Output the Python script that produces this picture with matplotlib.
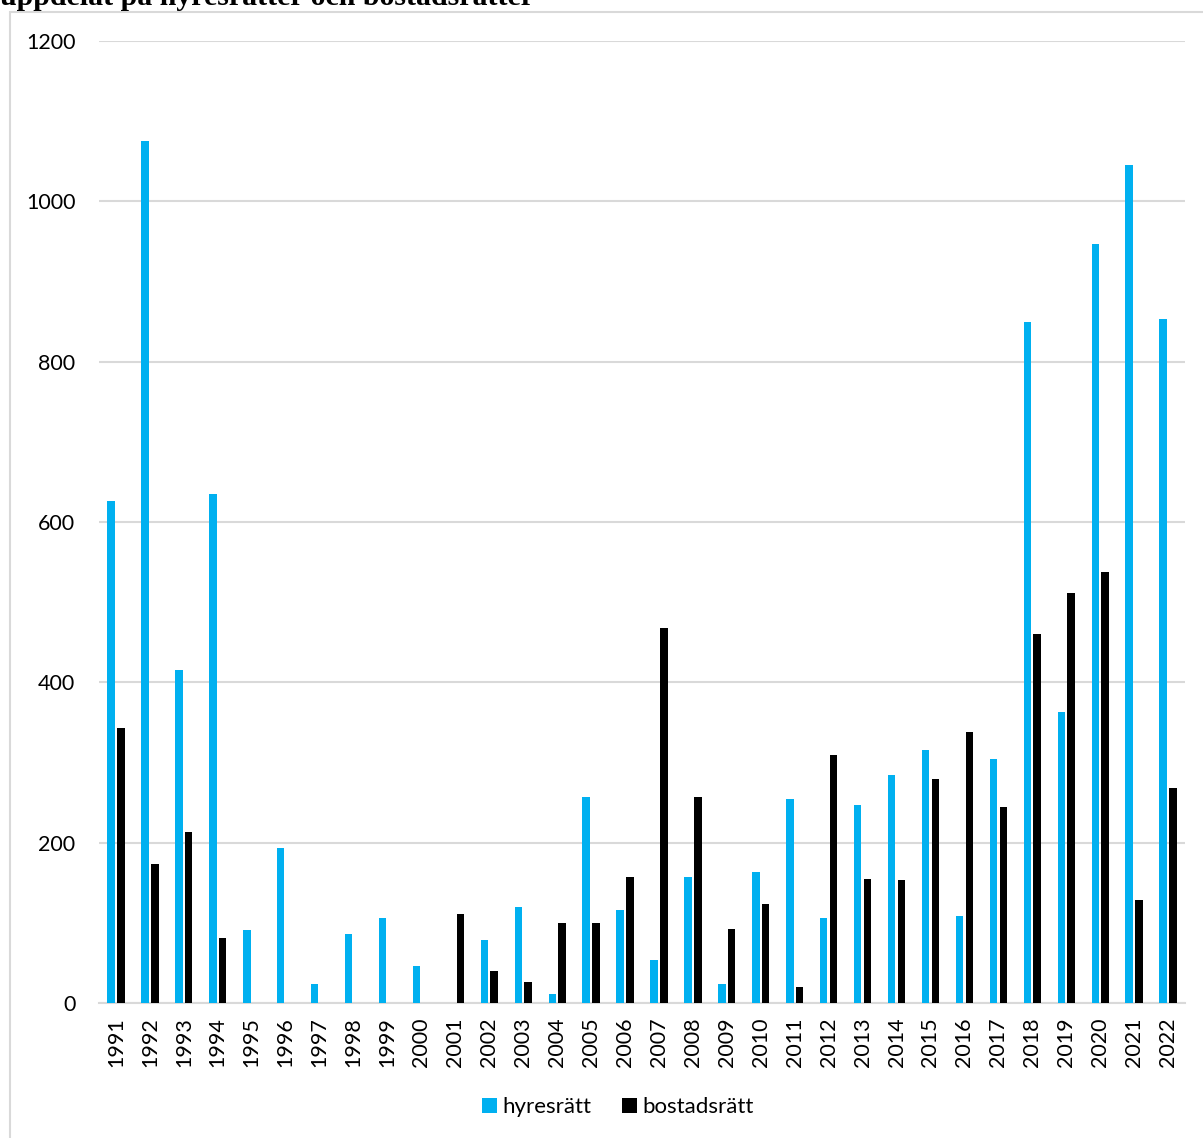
import matplotlib.pyplot as plt
import numpy as np
from matplotlib.patches import Rectangle

plt.rcParams['font.family'] = ['Lato', 'DejaVu Sans']

years = [str(y) for y in range(1991, 2023)]
hyresratt = [626, 1075, 415, 635, 91, 193, 24, 87, 106, 47,
             0, 79, 120, 12, 257, 116, 54, 157, 24, 164,
             255, 106, 247, 285, 316, 109, 304, 849, 363, 946,
             1045, 853]
bostadsratt = [343, 174, 214, 81, 0, 0, 0, 0, 0, 0,
               111, 40, 27, 100, 100, 157, 468, 257, 93, 124,
               20, 310, 155, 154, 279, 338, 245, 460, 511, 538,
               129, 269]
yticks = [0, 200, 400, 600, 800, 1000, 1200]

W, H = 1203, 1138
fig = plt.figure(figsize=(W / 100, H / 100), dpi=100)

# grey chart frame, partly cut off at right and bottom
fig.patches.append(Rectangle((10 / W, -0.01), 1.02, 1 - 11.7 / H + 0.01,
                             transform=fig.transFigure, fill=False,
                             edgecolor='#D9D9D9', linewidth=1.5))

# title, clipped at the top of the picture
fig.text(0.0, 1 - 5 / H, 'uppdelat på hyresrätter och bostadsrätter',
         fontfamily='Liberation Serif', fontweight='bold', fontsize=21.5,
         va='baseline', ha='left')

ax = fig.add_axes([99 / W, 1 - 1003.3 / H, (1185 - 99) / W, (1003.3 - 40.7) / H])
x = np.arange(len(years))
w = 0.22
ax.bar(x - 0.145, hyresratt, width=w, color='#00B0F0', label='hyresrätt', zorder=3)
ax.bar(x + 0.145, bostadsratt, width=w, color='#000000', label='bostadsrätt', zorder=3)

ax.set_xlim(-0.5, len(years) - 0.5)
ax.set_ylim(0, 1200)
ax.set_yticks(yticks)
ax.set_xticks(x)
ax.set_xticklabels(years, rotation=90)
ax.tick_params(axis='both', length=0, labelsize=15.5)
ax.tick_params(axis='y', pad=17)
ax.tick_params(axis='x', pad=10)
ax.yaxis.grid(True, color='#D9D9D9', linewidth=1.5, zorder=0)
ax.set_axisbelow(True)
for s in ['top', 'right', 'left']:
    ax.spines[s].set_visible(False)
ax.spines['bottom'].set_color('#D9D9D9')
ax.spines['bottom'].set_linewidth(1.5)

fig.legend(loc='center', bbox_to_anchor=(618 / W, 1 - 1107 / H), ncol=2,
           frameon=False, fontsize=16, handlelength=0.65, handleheight=0.65,
           handletextpad=0.25, columnspacing=1.4)

fig.savefig('out.png', dpi=100)
